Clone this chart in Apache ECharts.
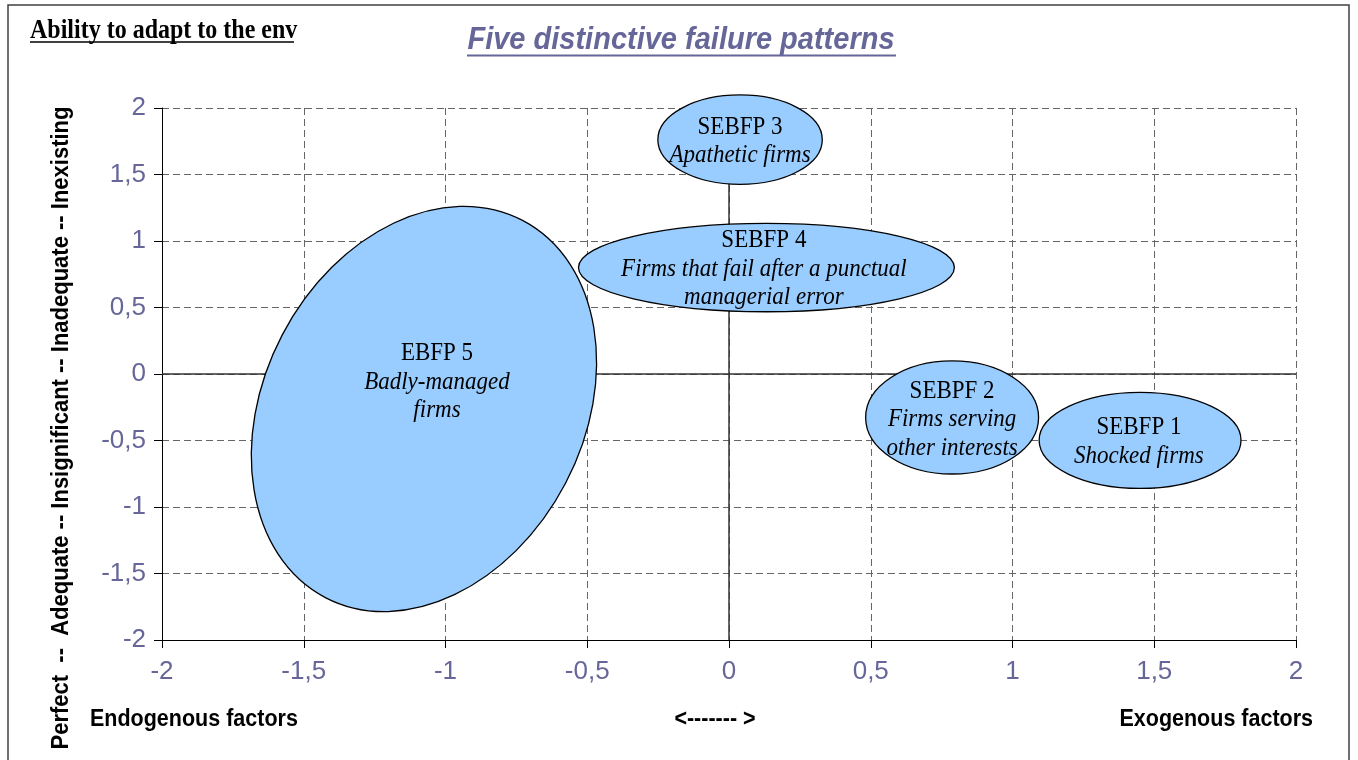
<!DOCTYPE html>
<html>
<head>
<meta charset="utf-8">
<script src="https://cdn.jsdelivr.net/npm/echarts@6/dist/echarts.min.js"></script>
<style>
html,body{margin:0;padding:0;background:#fff;}
#chart{width:1358px;height:760px;}
</style>
</head>
<body>
<div id="chart"></div>
<script>
// ---- data ----
const patternNames = ['SEBFP 1', 'SEBPF 2', 'SEBFP 3', 'SEBFP 4', 'EBFP 5'];
const patternDescriptions = [
  ['Shocked firms'],
  ['Firms serving', 'other interests'],
  ['Apathetic firms'],
  ['Firms that fail after a punctual', 'managerial error'],
  ['Badly-managed', 'firms']
];
const centerX = [1.45, 0.787, 0.039, 0.132, -1.076];
const centerY = [-0.499, -0.327, 1.762, 0.80, -0.263];
const radiusX = [0.356, 0.305, 0.29, 0.663, 0.564];
const radiusY = [0.361, 0.425, 0.336, 0.332, 1.60];
const tiltDeg = [0, 0, 0, 0, -27.6];
const labelX = [1.446, 0.787, 0.039, 0.123, -1.030];
const labelY = [-0.510, -0.344, 1.750, 0.789, -0.062];
const zeroLineV = [[0, -2], [0, 2]];
const zeroLineH = [[-2, 0], [2, 0]];
const axisMin = -2, axisMax = 2, axisStep = 0.5;

const yTitle = 'Perfect  --  Adequate -- Insignificant -- Inadequate -- Inexisting';

const ellipseData = patternNames.map((n, i) => [centerX[i], centerY[i], radiusX[i], radiusY[i], tiltDeg[i]]);
const labelData = patternNames.map((n, i) => [labelX[i], labelY[i], i]);

const chart = echarts.init(document.getElementById('chart'));
const labelColor = '#666699';
const fmt = v => String(v).replace('.', ',');

chart.setOption({
  animation: false,
  backgroundColor: '#fff',
  grid: {left: 162, right: 62, top: 108, bottom: 120},
  xAxis: {
    type: 'value', min: axisMin, max: axisMax, interval: axisStep,
    axisLine: {show: true, onZero: false, lineStyle: {color: '#000', width: 1}},
    axisTick: {show: true, length: 8, lineStyle: {color: '#000'}},
    axisLabel: {formatter: fmt, color: labelColor, fontFamily: 'Liberation Sans', fontSize: 26, margin: 19},
    splitLine: {show: true, lineStyle: {color: '#666', type: [7, 4], width: 1}}
  },
  yAxis: {
    type: 'value', min: axisMin, max: axisMax, interval: axisStep,
    axisLine: {show: true, onZero: false, lineStyle: {color: '#000', width: 1}},
    axisTick: {show: true, length: 8, lineStyle: {color: '#000'}},
    axisLabel: {formatter: fmt, color: labelColor, fontFamily: 'Liberation Sans', fontSize: 26, margin: 16},
    splitLine: {show: true, lineStyle: {color: '#666', type: [7, 4], width: 1}}
  },
  series: [
    {type: 'line', z: 2, data: zeroLineV, showSymbol: false, silent: true, lineStyle: {color: '#333', width: 1.5}},
    {type: 'line', z: 2, data: zeroLineH, showSymbol: false, silent: true, lineStyle: {color: '#333', width: 1.5}},
    {
      type: 'custom', silent: true, data: ellipseData, z: 4,
      renderItem: function (params, api) {
        const c = api.coord([api.value(0), api.value(1)]);
        const s = api.size([api.value(2), api.value(3)]);
        return {
          type: 'ellipse',
          x: c[0], y: c[1],
          rotation: api.value(4) * Math.PI / 180,
          shape: {cx: 0, cy: 0, rx: s[0], ry: s[1]},
          style: {fill: '#99CCFF', stroke: '#000', lineWidth: 1.3}
        };
      }
    },
    {
      type: 'custom', silent: true, data: labelData, z: 6,
      renderItem: function (params, api) {
        const c = api.coord([api.value(0), api.value(1)]);
        const i = api.value(2);
        const txt = '{n|' + patternNames[i] + '}\n' + patternDescriptions[i].map(t => '{d|' + t + '}').join('\n');
        return {
          type: 'text', x: c[0], y: c[1], scaleY: 1.1,
          style: {
            text: txt, align: 'center', verticalAlign: 'middle',
            rich: {
              n: {fontFamily: 'Liberation Serif', fontSize: 23, lineHeight: 26, fill: '#000', align: 'center'},
              d: {fontFamily: 'Liberation Serif', fontSize: 23, fontStyle: 'italic', lineHeight: 26, fill: '#000', align: 'center'}
            }
          }
        };
      }
    }
  ],
  graphic: [
    {type: 'rect', shape: {x: 8, y: 5, width: 1341, height: 780}, style: {fill: 'none', stroke: '#404040', lineWidth: 1.5}, silent: true},
    {type: 'text', x: 30, y: 31, scaleY: 1.15, style: {text: 'Ability to adapt to the env', font: 'bold 24px "Liberation Serif"', fill: '#000', verticalAlign: 'middle'}},
    {type: 'line', shape: {x1: 30, y1: 42, x2: 294, y2: 42}, style: {stroke: '#000', lineWidth: 1.5}},
    {type: 'text', x: 681, y: 40, scaleY: 1.1, style: {text: 'Five distinctive failure patterns', font: 'italic bold 29px "Liberation Sans"', fill: labelColor, align: 'center', verticalAlign: 'middle'}},
    {type: 'line', shape: {x1: 467, y1: 55.5, x2: 896, y2: 55.5}, style: {stroke: labelColor, lineWidth: 2}},
    {type: 'text', x: 90, y: 719, scaleY: 1.1, style: {text: 'Endogenous factors', font: 'bold 21.5px "Liberation Sans"', fill: '#000', verticalAlign: 'middle'}},
    {type: 'text', x: 715, y: 719, scaleY: 1.1, style: {text: '<------- >', font: 'bold 21.5px "Liberation Sans"', fill: '#000', align: 'center', verticalAlign: 'middle'}},
    {type: 'text', x: 1313, y: 719, scaleY: 1.1, style: {text: 'Exogenous factors', font: 'bold 21.5px "Liberation Sans"', fill: '#000', align: 'right', verticalAlign: 'middle'}},
    {type: 'text', x: 61, y: 428, rotation: Math.PI / 2, scaleY: 1.12, style: {text: yTitle, font: 'bold 22px "Liberation Sans"', fill: '#000', align: 'center', verticalAlign: 'middle'}}
  ]
});
</script>
</body>
</html>
